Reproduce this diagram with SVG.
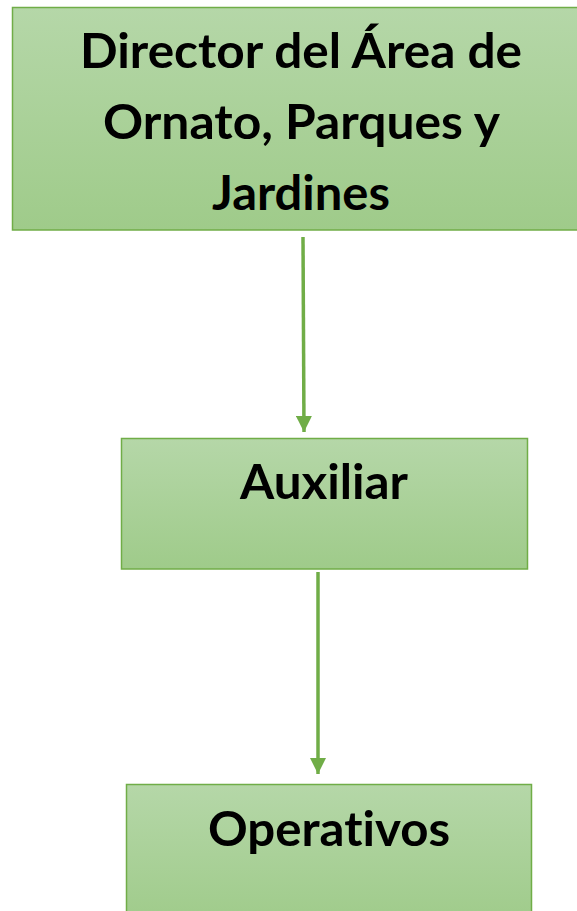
<svg xmlns="http://www.w3.org/2000/svg" width="577" height="911" viewBox="0 0 577 911">
<defs>
<linearGradient id="g" x1="0" y1="0" x2="0" y2="1">
<stop offset="0" stop-color="#b5d7a8"/>
<stop offset="1" stop-color="#9fcb8a"/>
</linearGradient>
<marker id="ah" viewBox="0 0 10 10" refX="10" refY="5" markerUnits="userSpaceOnUse" markerWidth="16" markerHeight="16" orient="auto">
<path d="M0,0 L10,5 L0,10 Z" fill="#70ad47"/>
</marker>
</defs>
<style>
.box{fill:url(#g);stroke:#70ad47;stroke-width:1.5}
.t{font-family:Lato,"Open Sans","Liberation Sans",sans-serif;font-weight:bold;font-size:47px;fill:#000;text-anchor:middle;font-variant-ligatures:none}
.c{stroke:#70ad47;stroke-width:3.5;fill:none}
</style>
<g id="connectors">
<line class="c" x1="303" y1="237" x2="304" y2="432" marker-end="url(#ah)"/>
<line class="c" x1="318" y1="572" x2="318" y2="774" marker-end="url(#ah)"/>
</g>
<g id="director">
<rect class="box" x="12.5" y="7.5" width="570" height="222.5"/>
<text class="t" x="301" y="68" textLength="442" lengthAdjust="spacingAndGlyphs">Director del Área de</text>
<text class="t" x="301.5" y="139" textLength="397" lengthAdjust="spacingAndGlyphs">Ornato, Parques y</text>
<text class="t" x="301" y="210" textLength="178" lengthAdjust="spacingAndGlyphs">Jardines</text>
</g>
<g id="auxiliar">
<rect class="box" x="121.5" y="438.5" width="406" height="130.5"/>
<text class="t" x="324" y="499" textLength="168" lengthAdjust="spacingAndGlyphs">Auxiliar</text>
</g>
<g id="operativos">
<rect class="box" x="126.5" y="784.5" width="405" height="140"/>
<text class="t" x="329" y="846" textLength="242" lengthAdjust="spacingAndGlyphs">Operativos</text>
</g>
</svg>
